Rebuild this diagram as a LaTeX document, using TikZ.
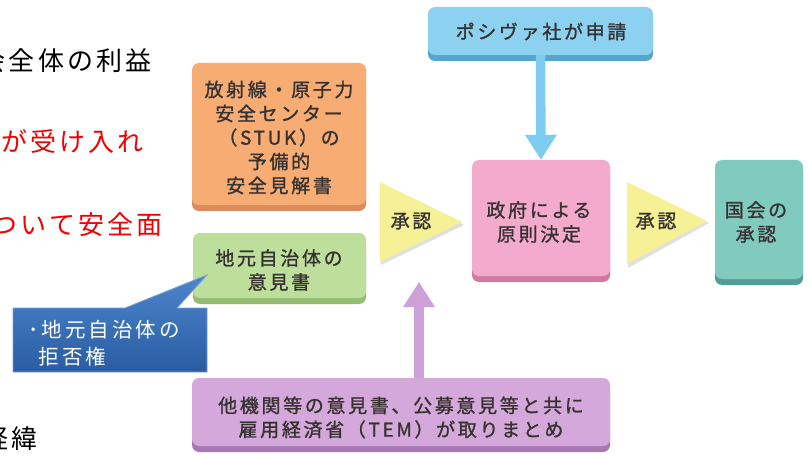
\documentclass[tikz,border=0pt]{standalone}
\usepackage{fontspec}
\setmainfont{Noto Sans CJK JP}
\newfontfamily\jpbox{Noto Sans CJK JP}[LetterSpace=14,FakeBold=1.2]
\newfontfamily\jpbig{Noto Sans CJK JP}[LetterSpace=12]
\newfontfamily\jpcall{Noto Sans CJK JP}[LetterSpace=15]
\usetikzlibrary{arrows.meta,shadows,calc}
\definecolor{textC}{RGB}{55,50,50}
\definecolor{redC}{RGB}{240,0,0}
\definecolor{orangeC}{RGB}{246,172,115}
\definecolor{orangeD}{RGB}{220,140,92}
\definecolor{greenC}{RGB}{190,222,155}
\definecolor{greenD}{RGB}{148,188,115}
\definecolor{pinkC}{RGB}{243,170,205}
\definecolor{pinkD}{RGB}{208,122,162}
\definecolor{tealC}{RGB}{128,202,190}
\definecolor{tealD}{RGB}{82,158,148}
\definecolor{skyC}{RGB}{140,210,240}
\definecolor{skyD}{RGB}{85,165,205}
\definecolor{purpC}{RGB}{212,168,218}
\definecolor{purpD}{RGB}{168,120,178}
\definecolor{yellowC}{RGB}{246,240,150}
\definecolor{arrowBlue}{RGB}{125,205,240}
\definecolor{arrowPurp}{RGB}{205,160,215}
\definecolor{callTop}{RGB}{76,134,204}
\definecolor{callBot}{RGB}{42,92,162}
\definecolor{callEdge}{RGB}{120,160,215}
\begin{document}
\begin{tikzpicture}[x=1pt,y=-1pt,
  box/.style={rounded corners=7pt, inner sep=0pt, draw=none},
  boxtxt/.style={font=\jpbox\fontsize{19}{24}\selectfont, text=textC, align=center, inner sep=0pt},
  bigtxt/.style={font=\jpbig\fontsize{26}{30}\selectfont, anchor=west, inner sep=0pt},
  blockarrow/.style={line width=9.5pt, -{Triangle[length=25pt,width=30pt]}},
  tri/.style={fill=yellowC}
]
\useasboundingbox (0,0) rectangle (811,457);
\fill[white] (0,0) rectangle (811,457);

% left slide text
\node[bigtxt, text=black] (l1) at (-20.4,61) {会全体の利益};
\node[bigtxt, text=redC] (l2) at (1,141.5) {が受け入れ};
\node[bigtxt, text=redC] (l3) at (-8.6,225) {ついて安全面};
\node[bigtxt, text=black] (l4) at (-17.4,439) {経緯};

% boxes (shapes)
\node[box, fill=skyC, general shadow={fill=skyD, shadow yshift=-6pt},
  minimum width=225pt, minimum height=48pt] (apply) at (540.5,31) {};
\node[box, fill=orangeC, general shadow={fill=orangeD, shadow yshift=-6pt},
  minimum width=174pt, minimum height=142pt] (stuk) at (279,134) {};
\node[box, fill=greenC, general shadow={fill=greenD, shadow yshift=-6pt},
  minimum width=173pt, minimum height=65pt] (local) at (279.5,265.5) {};
\node[box, fill=pinkC, general shadow={fill=pinkD, shadow yshift=-6pt},
  minimum width=138pt, minimum height=116pt] (gov) at (541,218) {};
\node[box, fill=tealC, general shadow={fill=tealD, shadow yshift=-6pt},
  minimum width=88pt, minimum height=119pt] (parl) at (759,219.5) {};
\node[box, fill=purpC, general shadow={fill=purpD, shadow yshift=-6pt},
  minimum width=418pt, minimum height=68pt] (tem) at (401,412) {};

% arrows
\draw[blockarrow, arrowBlue] (apply.south) -- (gov.north);
\coordinate (ptip) at (419,282);
\draw[blockarrow, arrowPurp] (ptip |- tem.north) -- (ptip);

% approval triangles
\fill[black!12] (381,185) -- (464,225) -- (381,265) -- cycle;
\fill[tri] (380,182) -- (462,222) -- (380,262) -- cycle;
\fill[black!12] (628,185) -- (709,223) -- (628,268) -- cycle;
\fill[tri] (627,182) -- (707,221) -- (627,264) -- cycle;

% texts
\node[boxtxt] (applyt) at (541,31.5) {ポシヴァ社が申請};
\node[boxtxt] (stukt) at (279,137.5) {放射線・原子力\\安全センター\\（STUK）の\\予備的\\安全見解書};
\node[boxtxt] (localt) at (279,270) {地元自治体の\\意見書};
\node[boxtxt] (govt) at (539,222) {政府による\\原則決定};
\node[boxtxt] (parlt) at (756,222) {国会の\\承認};
\node[boxtxt] (temt) at (401,417.5) {他機関等の意見書、公募意見等と共に\\雇用経済省（TEM）が取りまとめ};
\node[boxtxt] (ok1) at (411,221) {承認};
\node[boxtxt] (ok2) at (656,221) {承認};

% callout
\shade[top color=callTop, bottom color=callBot, draw=callEdge, line width=0.8pt]
  (13,308) -- (125,308) -- (207,275) -- (177,308) -- (207,308) -- (207,372) -- (13,372) -- cycle;
\node[anchor=west, align=left, text=white, inner sep=0pt,
  font=\jpcall\fontsize{20.5}{27}\selectfont] (veto) at (28,343.5) {･地元自治体の\\\phantom{･}拒否権};
\end{tikzpicture}
\end{document}
